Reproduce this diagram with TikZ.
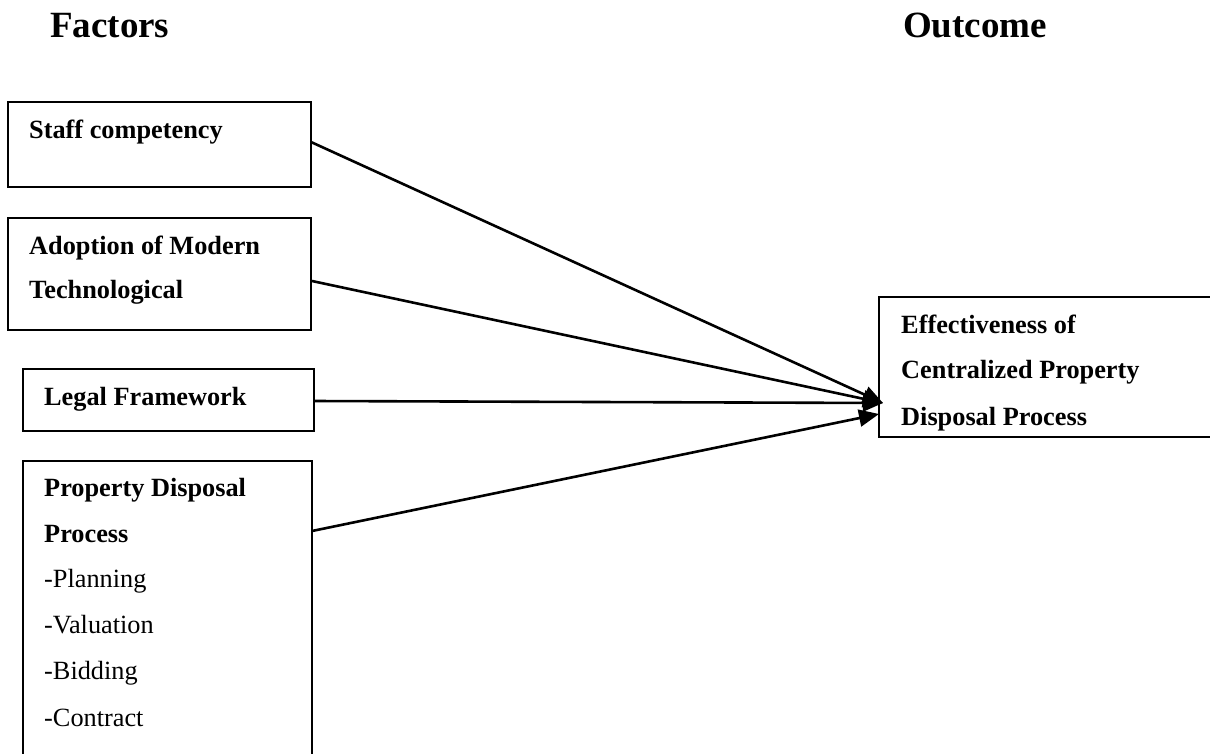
\documentclass[tikz,border=0pt]{standalone}
\usepackage{fontspec}
\setmainfont{Liberation Serif}
\usetikzlibrary{arrows.meta}
\tikzset{
  box/.style={draw=black, line width=2pt, inner sep=0pt, outer sep=0pt, anchor=north west},
  lbl/.style={anchor=base west, inner sep=0pt, font=\fontsize{26.3}{30}\selectfont\bfseries},
  plain/.style={anchor=base west, inner sep=0pt, font=\fontsize{26.3}{30}\selectfont},
  head/.style={anchor=base west, inner sep=0pt, font=\fontsize{37}{42}\selectfont\bfseries},
  arr/.style={line width=2.6pt, -{Triangle[length=20pt,width=17pt]}}
}
\begin{document}
\begin{tikzpicture}[x=1pt,y=-1pt]
\useasboundingbox (0,0) rectangle (1210,753);
\clip (0,0) rectangle (1210,753);
% headings
\node[head] (hf) at (50,37) {Factors};
\node[head] (ho) at (903,37) {Outcome};
% boxes
\node[box, minimum width=303pt, minimum height=85pt] (b1) at (8,102) {};
\node[box, minimum width=303pt, minimum height=112pt] (b2) at (8,218) {};
\node[box, minimum width=291pt, minimum height=62pt] (b3) at (23,369) {};
\node[box, minimum width=289pt, minimum height=310pt] (b4) at (23,461) {};
\node[box, minimum width=340pt, minimum height=140pt] (b5) at (879,297) {};
% texts
\node[lbl] (t1) at (29,138) {Staff competency};
\node[lbl] (t2a) at (29,254) {Adoption of Modern};
\node[lbl] (t2b) at (29,298) {Technological};
\node[lbl] (t3) at (44,405) {Legal Framework};
\node[lbl] (t4a) at (44,496) {Property Disposal};
\node[lbl] (t4b) at (44,542) {Process};
\node[plain] (t4c) at (44,587) {-Planning};
\node[plain] (t4d) at (44,633) {-Valuation};
\node[plain] (t4e) at (44,679) {-Bidding};
\node[plain] (t4f) at (44,726) {-Contract};
\node[lbl] (t5a) at (901,333) {Effectiveness of};
\node[lbl] (t5b) at (901,378) {Centralized Property};
\node[lbl] (t5c) at (901,425) {Disposal Process};
% connector end points
\coordinate (s1) at (311,142);
\coordinate (s2) at (312,281);
\coordinate (s3) at (314,401);
\coordinate (s4) at (312,531);
\coordinate (e1) at (883,403);
\coordinate (e2) at (879,414);
\draw[arr] (s1) -- (e1);
\draw[arr] (s2) -- (e1);
\draw[arr] (s3) -- (e1);
\draw[arr] (s4) -- (e2);
\end{tikzpicture}
\end{document}
